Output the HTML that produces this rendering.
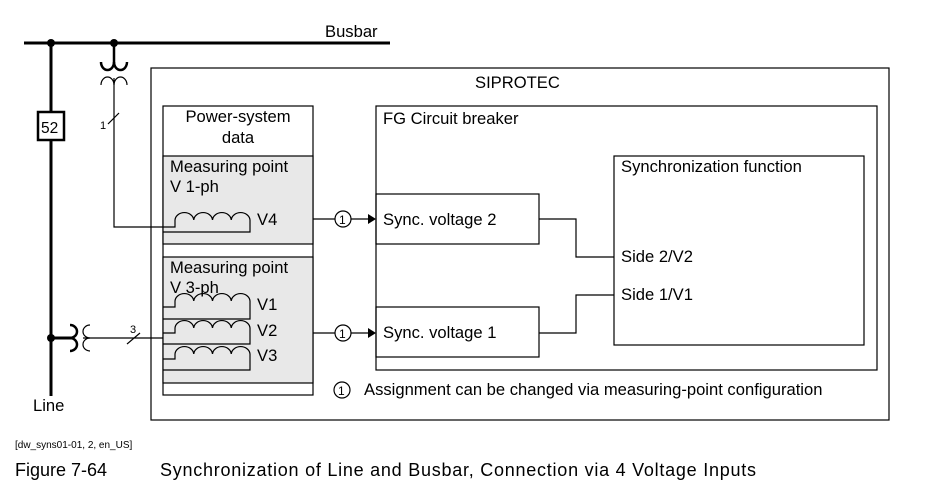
<!DOCTYPE html>
<html><head><meta charset="utf-8"><style>
html,body{margin:0;padding:0;background:#fff;}
svg{display:block;}
text{font-family:"Liberation Sans",Arial,sans-serif;fill:#000;}
</style></head><body>
<svg width="936" height="497" viewBox="0 0 936 497" xmlns="http://www.w3.org/2000/svg">
<g fill="none" stroke="#000">
<!-- busbar -->
<line x1="24" y1="43" x2="390" y2="43" stroke-width="3"/>
<circle cx="51" cy="43" r="4" fill="#000" stroke="none"/>
<circle cx="114" cy="43" r="4" fill="#000" stroke="none"/>
<line x1="51" y1="43" x2="51" y2="396" stroke-width="3"/>
<rect x="38" y="112" width="26" height="28" fill="#fff" stroke-width="2.5"/>
<!-- busbar VT -->
<line x1="114" y1="43" x2="114" y2="64" stroke-width="2.5"/>
<path d="M101,62 A6.5,8 0 0 0 114,62 A6.5,8 0 0 0 127,62" stroke-width="2.5"/>
<path d="M101,85 A6.5,8 0 0 1 114,85 A6.5,8 0 0 1 127,85" stroke-width="1.2"/>
<path d="M114,78 V227 H163" stroke-width="1.2"/>
<line x1="108" y1="124" x2="119" y2="113" stroke-width="1.2"/>
<!-- line CT -->
<circle cx="51" cy="338" r="4" fill="#000" stroke="none"/>
<line x1="51" y1="338" x2="72" y2="338" stroke-width="3"/>
<path d="M70,325 A7,6.5 0 0 1 70,338 A7,6.5 0 0 1 70,351" stroke-width="2.5"/>
<path d="M90,325 A7,6.5 0 0 0 90,338 A7,6.5 0 0 0 90,351" stroke-width="1.2"/>
<line x1="83" y1="338" x2="163" y2="338" stroke-width="1.2"/>
<line x1="127" y1="344" x2="140" y2="333" stroke-width="1.2"/>
<!-- SIPROTEC -->
<rect x="151" y="68" width="738" height="352" stroke-width="1.2"/>
<!-- power system data -->
<rect x="163" y="106" width="150" height="289" fill="#fff" stroke-width="1.2"/>
<rect x="163" y="156" width="150" height="88" fill="#e8e8e8" stroke-width="1.2"/>
<rect x="163" y="257" width="150" height="126" fill="#e8e8e8" stroke-width="1.2"/>
<!-- coils -->
<g stroke-width="1.2">
<path d="M163,227 H175 V220 A9.4,8 0 0 1 193.75,220 A9.4,8 0 0 1 212.5,220 A9.4,8 0 0 1 231.25,220 A9.4,8 0 0 1 250,220 V232 H163"/>
<path d="M163,307 H175 V301 A9.4,8 0 0 1 193.75,301 A9.4,8 0 0 1 212.5,301 A9.4,8 0 0 1 231.25,301 A9.4,8 0 0 1 250,301 V319 H163"/>
<path d="M163,333 H175 V328 A9.4,8 0 0 1 193.75,328 A9.4,8 0 0 1 212.5,328 A9.4,8 0 0 1 231.25,328 A9.4,8 0 0 1 250,328 V344 H163"/>
<path d="M163,359 H175 V354 A9.4,8 0 0 1 193.75,354 A9.4,8 0 0 1 212.5,354 A9.4,8 0 0 1 231.25,354 A9.4,8 0 0 1 250,354 V370 H163"/>
</g>
<!-- FG -->
<rect x="376" y="106" width="501" height="264" stroke-width="1.2"/>
<rect x="376" y="194" width="163" height="50" stroke-width="1.2"/>
<rect x="376" y="307" width="163" height="50" stroke-width="1.2"/>
<rect x="614" y="156" width="250" height="189" stroke-width="1.2"/>
<!-- connectors -->
<line x1="313" y1="219" x2="335" y2="219" stroke-width="1.2"/>
<line x1="351" y1="219" x2="368" y2="219" stroke-width="1.2"/>
<circle cx="343" cy="219" r="8" stroke-width="1.2"/>
<line x1="313" y1="333" x2="335" y2="333" stroke-width="1.2"/>
<line x1="351" y1="333" x2="368" y2="333" stroke-width="1.2"/>
<circle cx="343" cy="333" r="8" stroke-width="1.2"/>
<path d="M539,219 H576 V257 H614" stroke-width="1.2"/>
<path d="M539,333 H576 V295 H614" stroke-width="1.2"/>
<circle cx="342" cy="390" r="8" stroke-width="1.2"/>
</g>
<polygon points="368,214 376,219 368,224" fill="#000"/>
<polygon points="368,328 376,333 368,338" fill="#000"/>
<g font-size="16.6">
<text x="325" y="37">Busbar</text>
<text x="41" y="133" font-size="15.5">52</text>
<text x="100" y="129" font-size="11">1</text>
<text x="130" y="333" font-size="11">3</text>
<text x="33" y="411">Line</text>
<text x="475" y="88">SIPROTEC</text>
<text x="238" y="122" text-anchor="middle">Power-system</text>
<text x="238" y="143" text-anchor="middle">data</text>
<text x="170" y="172">Measuring point</text>
<text x="170" y="192">V 1-ph</text>
<text x="257" y="225">V4</text>
<text x="170" y="273">Measuring point</text>
<text x="170" y="293">V 3-ph</text>
<text x="257" y="310">V1</text>
<text x="257" y="336">V2</text>
<text x="257" y="361">V3</text>
<text x="383" y="124">FG  Circuit breaker</text>
<text x="383" y="225">Sync. voltage 2</text>
<text x="383" y="338">Sync. voltage 1</text>
<text x="621" y="172">Synchronization function</text>
<text x="621" y="262">Side 2/V2</text>
<text x="621" y="300">Side 1/V1</text>
<text x="364" y="395">Assignment can be changed via measuring-point configuration</text>
<text x="339" y="224" font-size="12">1</text>
<text x="339" y="338" font-size="12">1</text>
<text x="338" y="395" font-size="12">1</text>
</g>
<text x="15" y="448" font-size="10" font-family="Liberation Sans Narrow,Liberation Sans,sans-serif">[dw_syns01-01, 2, en_US]</text>
<text x="15" y="476" font-size="18" font-family="Liberation Sans Narrow,Liberation Sans,sans-serif">Figure 7-64</text>
<text x="160" y="476" font-size="18" font-family="Liberation Sans Narrow,Liberation Sans,sans-serif" textLength="596">Synchronization of Line and Busbar, Connection via 4 Voltage Inputs</text>
</svg>
</body></html>
